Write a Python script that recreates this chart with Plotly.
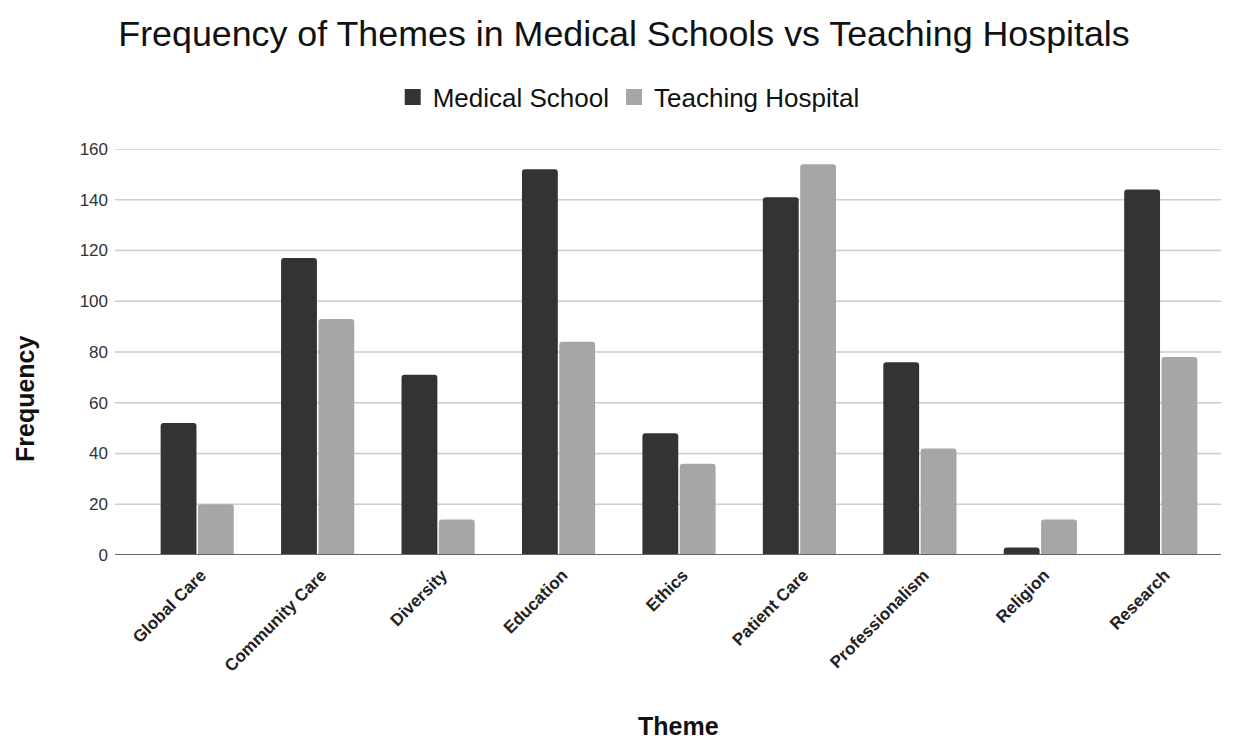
import plotly.graph_objects as go

themes = ["Global Care", "Community Care", "Diversity", "Education", "Ethics",
          "Patient Care", "Professionalism", "Religion", "Research"]
medical_school = [52, 117, 71, 152, 48, 141, 76, 3, 144]
teaching_hospital = [20, 93, 14, 84, 36, 154, 42, 14, 78]
y_ticks = [0, 20, 40, 60, 80, 100, 120, 140, 160]
series_names = ["Medical School", "Teaching Hospital"]
series_colors = ["#333333", "#a6a6a6"]

W, H = 1239, 740
L, R, T, B = 137, 18, 149, 185
PW, PH = W - L - R, H - T - B
FONT = "Liberation Sans, Arial, sans-serif"

fig = go.Figure()
for name, vals, col in zip(series_names, [medical_school, teaching_hospital], series_colors):
    fig.add_trace(go.Bar(name=name, x=themes, y=vals, showlegend=False,
                         marker=dict(color=col, cornerradius=3, line=dict(width=0))))
# legend entries with larger square swatches
for name, col in zip(series_names, series_colors):
    fig.add_trace(go.Scatter(name=name, x=[None], y=[None], mode="markers",
                             marker=dict(symbol="square", size=17, color=col), showlegend=True))

# gridlines extended slightly left of the plotting area
x_left = (115 - L) / PW
for v in y_ticks[1:]:
    fig.add_shape(type="line", xref="paper", yref="y", x0=x_left, x1=1, y0=v, y1=v,
                  line=dict(color="#cccccc", width=1.5), layer="below")
fig.add_shape(type="line", xref="paper", yref="y", x0=x_left, x1=1, y0=0, y1=0,
              line=dict(color="#666666", width=2), layer="above")

fig.update_layout(
    width=W, height=H,
    margin=dict(l=L, r=R, t=T, b=B),
    paper_bgcolor="white", plot_bgcolor="white",
    font=dict(family=FONT, color="#222222"),
    title=dict(text="Frequency of Themes in Medical Schools vs Teaching Hospitals",
               x=624 / W, xanchor="center", y=1 - 33 / H, yanchor="middle",
               font=dict(size=35.8, color="#111111", family=FONT)),
    legend=dict(orientation="h", x=562 / W, xanchor="center", y=1 - 97 / H, yref="container",
                yanchor="middle", font=dict(size=26, color="#111111"),
                traceorder="normal", itemwidth=30),
    barmode="group", bargap=0.38, bargroupgap=0.04,
    xaxis=dict(tickangle=-45, showgrid=False, showline=False, ticks="",
               tickfont=dict(size=17, color="#222222", family=FONT, weight="bold"),
               ticklabelstandoff=6, ticklabelshift=4, range=[-0.5, 8.5]),
    yaxis=dict(range=[0, 160], tickvals=y_ticks, showgrid=False, zeroline=False,
               showline=False, ticks="", tickfont=dict(size=17, color="#333333"),
               ticklabelstandoff=28),
    showlegend=True,
)

fig.add_annotation(text="<b>Frequency</b>", xref="paper", yref="paper",
                   x=(25 - L) / PW, y=(555 - 399) / PH,
                   textangle=-90, showarrow=False, xanchor="center", yanchor="middle",
                   font=dict(size=25, color="#111111"))
fig.add_annotation(text="<b>Theme</b>", xref="paper", yref="paper",
                   x=(678 - L) / PW, y=-(726 - 555) / PH, showarrow=False,
                   xanchor="center", yanchor="middle",
                   font=dict(size=25, color="#111111"))

fig.write_html("out.html")
